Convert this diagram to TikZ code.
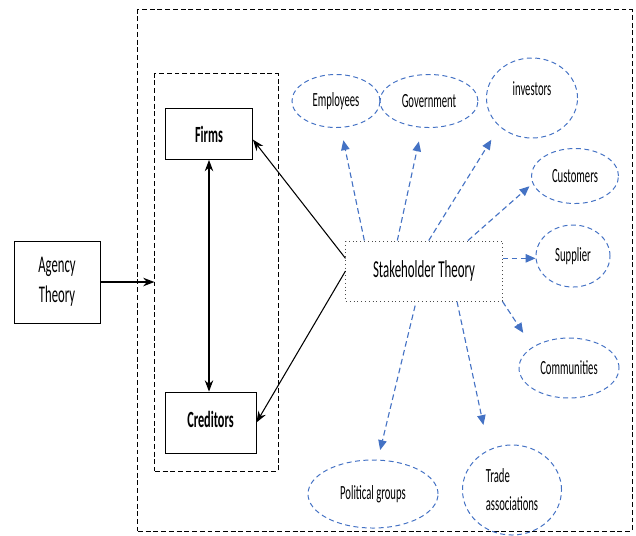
\documentclass[tikz,border=0pt]{standalone}
\usepackage{fontspec}
\setmainfont{Carlito}[FakeStretch=0.53]
\usetikzlibrary{shapes.geometric, arrows.meta, calc}
\definecolor{groupblue}{RGB}{68,114,196}
\tikzstyle{frame} = [rectangle, draw=black, line width=0.7pt, dash pattern=on 3.5pt off 2pt]
\tikzstyle{theory} = [rectangle, minimum width=2.15cm, minimum height=2.05cm, text centered, align=center, draw=black, line width=0.6pt, font=\fontsize{17}{21}\selectfont]
\tikzstyle{party} = [rectangle, text centered, draw=black, line width=0.6pt, font=\fontsize{16.5}{20}\selectfont\bfseries]
\tikzstyle{stake} = [rectangle, minimum width=3.9cm, minimum height=1.5cm, text centered, draw=black!70, dotted, line width=0.7pt, font=\fontsize{17.3}{21}\selectfont]
\tikzstyle{group} = [ellipse, inner sep=0pt, text centered, align=center, draw=groupblue, line width=0.7pt, dash pattern=on 3.5pt off 2.5pt, font=\fontsize{14.3}{20}\selectfont]
\tikzstyle{arrow} = [line width=0.75pt, -{Stealth[length=8pt, width=6pt]}]
\tikzstyle{link} = [draw=groupblue, line width=0.8pt, dash pattern=on 4pt off 2.5pt, -{Triangle[length=7pt, width=6pt]}]

\begin{document}
\begin{tikzpicture}[x=0.025cm, y=-0.025cm]
  \useasboundingbox (0,0) rectangle (636,535);
  \node (outer) [frame, minimum width=12.35cm, minimum height=13.025cm] at (385,270.5) {};
  \node (inner) [frame, minimum width=3.075cm, minimum height=9.925cm] at (216.5,272.5) {};
  \node (agency) [theory] at (57,282) {Agency\\Theory};
  \node (firms) [party, minimum width=2.175cm, minimum height=1.275cm] at (209,134) {Firms};
  \node (creditors) [party, minimum width=2.275cm, minimum height=1.525cm] at (210.5,422.5) {\raisebox{5pt}{Creditors}};
  \node (stake) [stake] at (424,271) {Stakeholder Theory};
  % stakeholder groups
  \node (employees) [group, minimum width=2.2cm, minimum height=1.325cm] at (336,101) {Employees};
  \node (government) [group, minimum width=2.45cm, minimum height=1.325cm] at (429,101) {Government};
  \node (investors) [group, minimum width=2.275cm, minimum height=2cm] at (532,98) {\raisebox{14pt}{investors}};
  \node (customers) [group, minimum width=2.175cm, minimum height=1.375cm] at (575,176) {Customers};
  \node (supplier) [group, minimum width=1.85cm, minimum height=1.55cm] at (573,256) {Supplier};
  \node (communities) [group, minimum width=2.5cm, minimum height=1.5cm] at (569,368) {Communities};
  \node (political) [group, minimum width=3.25cm, minimum height=1.7cm] at (373,494) {Political groups};
  \node (trade) [group, align=left, minimum width=2.475cm, minimum height=2.25cm] at (512,490) {Trade\\associations};
  \draw [arrow, line width=1.2pt] (agency.east) -- (agency.east -| inner.west);
  \draw [arrow, {Stealth[length=8pt, width=6pt]}-{Stealth[length=8pt, width=6pt]}] (firms.south) -- (firms.south |- creditors.north);
  \draw [arrow] ([yshift=9pt]stake.west) -- ([yshift=-4pt]firms.east);
  \draw [arrow] (stake.west) -- (creditors.east);
  \draw [link, shorten >=9pt] ($(stake.north west)!0.12!(stake.north east)$) -- (employees.280);
  \draw [link, shorten >=10pt] ($(stake.north west)!0.33!(stake.north east)$) -- (government.255);
  \draw [link, shorten >=11pt] ($(stake.north west)!0.53!(stake.north east)$) -- (investors.south west);
  \draw [link, shorten >=3pt] ($(stake.north west)!0.78!(stake.north east)$) -- (customers.190);
  \draw [link] ([yshift=9pt]stake.east) -- ([yshift=9pt]stake.east -| supplier.west);
  \draw [link, shorten >=12pt] (stake.south east) -- (communities.150);
  \draw [link, shorten <=3pt, shorten >=7pt] ($(stake.south west)!0.45!(stake.south east)$) -- (political.82);
  \draw [link, shorten >=18pt] ($(stake.south west)!0.71!(stake.south east)$) -- (trade.120);
\end{tikzpicture}
\end{document}
